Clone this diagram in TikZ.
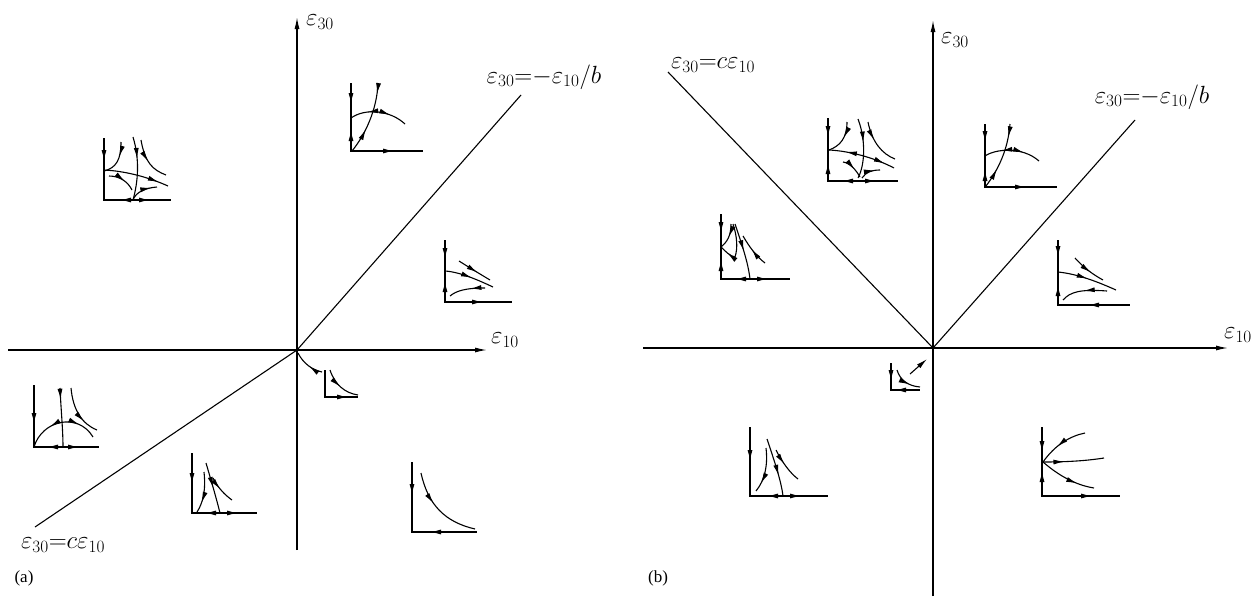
\documentclass[tikz,border=0pt]{standalone}
\usepackage{fontspec}
\setmainfont{Liberation Serif}
\usetikzlibrary{arrows.meta,decorations.markings}
\begin{document}
\begin{tikzpicture}[x=1pt,y=-1pt,
  ax/.style={line width=1.3pt},
  mainarr/.style={-{Latex[length=12pt,width=5pt]}},
  ln/.style={line width=1.1pt},
  mx/.style={line width=2pt},
  cv/.style={line width=1.1pt},
  fa/.style={postaction={decorate,decoration={markings,mark=at position #1 with {\arrow{Latex[length=11pt,width=5pt]}}}}},
  fa/.default=0.5,
  ra/.style={postaction={decorate,decoration={markings,mark=at position #1 with {\arrowreversed{Latex[length=11pt,width=5pt]}}}}},
  ra/.default=0.5,
  tip/.style={-{Latex[length=11pt,width=5pt]},line width=1.1pt},
  lab/.style={font=\fontsize{24}{26}\selectfont, inner sep=0pt},
  captxt/.style={font=\fontsize{17}{19}\selectfont, inner sep=0pt}]
\useasboundingbox (0,0) rectangle (1260,605);
\fill[white] (0,0) rectangle (1260,605);

% ================= panel (a) =================
\coordinate (oa) at (297,350);
\coordinate (xa0) at (8,350);
\coordinate (xa1) at (487,350);
\coordinate (ya0) at (297,550);
\coordinate (ya1) at (297,17);
\coordinate (da1) at (521,95);
\coordinate (da2) at (35,527);
\draw[ax,mainarr] (xa0) -- (xa1);
\draw[ax,mainarr] (ya0) -- (ya1);
\draw[ln] (oa) -- (da1);
\draw[ln] (oa) -- (da2);
\node[lab] (ea30) at (320,22) {$\varepsilon_{30}$};
\node[lab] (ea10) at (505,340) {$\varepsilon_{10}$};
\node[lab] (ealb) at (544,77) {$\varepsilon_{30}{=}{-}\varepsilon_{10}/b$};
\node[lab] (ealc) at (63,545) {$\varepsilon_{30}{=}c\varepsilon_{10}$};
\node[captxt] (capa) at (24,578) {(a)};

% a1
\draw[mx] (104,138) -- (104,200) -- (171,200);
\draw[cv,fa=0.4] (121,142) .. controls (121,160) and (116,168) .. (104,171);
\draw[cv,fa=0.85] (104,170) .. controls (125,171) and (148,177) .. (168,186);
\draw[cv,fa=0.35] (133,137) .. controls (140,160) and (138,182) .. (133,200);
\draw[cv,fa=0.5] (141,140) .. controls (145,163) and (153,170) .. (166,175);
\draw[cv,fa=0.6] (109,176) .. controls (120,176) and (128,182) .. (132,190);
\draw[cv,fa=0.8] (133,200) .. controls (136,192) and (145,188) .. (157,187);
\draw[tip] (104,146) -- (104,161);
\draw[tip] (133,200) -- (120,200);
\draw[tip] (133,200) -- (150,200);

% a2
\draw[mx] (351,83) -- (351,151) -- (423,151);
\draw[cv,ra=0.3,fa=0.7] (351,118) .. controls (365,108) and (390,110) .. (405,124);
\draw[cv,fa=0.35,ra=0.85] (352,151) .. controls (365,135) and (377,110) .. (378,83);
\draw[tip] (351,88) -- (351,104);
\draw[tip] (351,146) -- (351,130);
\draw[tip] (374,151) -- (394,151);

% a3
\draw[mx] (445,240) -- (445,302) -- (512,302);
\draw[cv,fa=0.6] (459,261) .. controls (470,268) and (480,274) .. (490,280);
\draw[cv,fa=0.55] (445,271) .. controls (460,272) and (478,280) .. (493,287);
\draw[cv,ra=0.6] (450,296) .. controls (456,291) and (465,288) .. (485,288);
\draw[tip] (445,243) -- (445,259);
\draw[tip] (445,297) -- (445,281);
\draw[tip] (464,302) -- (483,302);

% a4
\draw[cv,ra=0.55] (298,353) .. controls (303,363) and (312,370) .. (322,372);
\draw[mx] (325,370) -- (325,397) -- (358,397);
\draw[cv,fa=0.5] (330,370) .. controls (335,385) and (345,393) .. (358,395);
\draw[tip] (329,397) -- (348,397);

% a5
\draw[mx] (34,385) -- (34,447) -- (99,447);
\draw[cv,fa=0.2] (60,388) .. controls (61,410) and (63,430) .. (63,447);
\draw[cv,fa=0.7] (71,388) .. controls (73,410) and (82,424) .. (97,430);
\draw[cv,ra=0.35,fa=0.75] (34,447) .. controls (42,420) and (78,412) .. (93,437);
\draw[tip] (34,408) -- (34,424);
\draw[tip] (62,447) -- (47,447);
\draw[tip] (63,447) -- (79,447);

% a6
\draw[mx] (192,453) -- (192,513) -- (257,513);
\draw[cv,fa=0.75] (204,472) .. controls (206,490) and (203,503) .. (197,512);
\draw[cv,fa=0.5] (206,463) .. controls (211,480) and (216,497) .. (220,513);
\draw[cv,fa=0.45] (213,478) .. controls (218,488) and (225,495) .. (232,500);
\draw[tip] (192,468) -- (192,484);
\draw[tip] (220,513) -- (205,513);
\draw[tip] (222,513) -- (238,513);

% a7
\draw[mx] (412,462) -- (412,532) -- (477,532);
\draw[cv,fa=0.4] (421,473) .. controls (428,505) and (445,522) .. (475,529);
\draw[tip] (412,479) -- (412,495);
\draw[tip] (449,532) -- (430,532);

% ================= panel (b) =================
\coordinate (ob) at (933,348);
\coordinate (xb0) at (643,348);
\coordinate (xb1) at (1228,348);
\coordinate (yb0) at (933,596);
\coordinate (yb1) at (933,20);
\coordinate (db1) at (1135,120);
\coordinate (db2) at (668,72);
\draw[ax,mainarr] (xb0) -- (xb1);
\draw[ax,mainarr] (yb0) -- (yb1);
\draw[ln] (ob) -- (db1);
\draw[ln] (ob) -- (db2);
\node[lab] (eb30) at (955,40) {$\varepsilon_{30}$};
\node[lab] (eb10) at (1238,335) {$\varepsilon_{10}$};
\node[lab] (eblb) at (1152,97) {$\varepsilon_{30}{=}{-}\varepsilon_{10}/b$};
\node[lab] (eblc) at (713,65) {$\varepsilon_{30}{=}c\varepsilon_{10}$};
\node[captxt] (capb) at (658,578) {(b)};

% b1
\draw[mx] (828,118) -- (828,181) -- (898,181);
\draw[cv,fa=0.45] (847,122) .. controls (847,138) and (840,146) .. (829,150);
\draw[cv,ra=0.25,fa=0.85] (829,150) .. controls (850,151) and (875,158) .. (894,168);
\draw[cv,fa=0.4] (858,119) .. controls (866,140) and (865,165) .. (858,178);
\draw[cv,fa=0.4] (868,122) .. controls (872,142) and (882,154) .. (895,159);
\draw[cv,fa=0.6] (843,162) .. controls (850,163) and (856,170) .. (860,177);
\draw[cv,fa=0.75] (862,178) .. controls (866,172) and (872,170) .. (880,170);
\draw[tip] (828,121) -- (828,137);
\draw[tip] (828,179) -- (828,163);
\draw[tip] (858,181) -- (842,181);
\draw[tip] (860,181) -- (876,181);

% b2
\draw[mx] (985,124) -- (985,187) -- (1057,187);
\draw[cv,ra=0.3,fa=0.7] (985,156) .. controls (995,149) and (1022,146) .. (1039,161);
\draw[cv,fa=0.3,ra=0.8] (986,186) .. controls (998,170) and (1008,150) .. (1010,124);
\draw[tip] (985,126) -- (985,142);
\draw[tip] (985,186) -- (985,170);
\draw[tip] (1006,187) -- (1026,187);

% b3
\draw[mx] (721,214) -- (721,279) -- (790,279);
\draw[cv,fa=0.5] (731,224) .. controls (731,236) and (727,242) .. (721,247);
\draw[cv,ra=0.5] (721,247) .. controls (726,252) and (730,256) .. (735,257);
\draw[cv] (733,224) .. controls (737,236) and (738,248) .. (735,257);
\draw[cv,fa=0.5] (735,224) .. controls (742,245) and (748,262) .. (750,279);
\draw[cv,ra=0.45] (743,236) .. controls (750,248) and (757,257) .. (765,263);
\draw[tip] (721,217) -- (721,233);
\draw[tip] (721,276) -- (721,260);
\draw[tip] (750,279) -- (735,279);
\draw[tip] (752,279) -- (768,279);

% b4
\draw[mx] (1058,240) -- (1058,305) -- (1130,305);
\draw[cv,fa=0.6] (1075,258) .. controls (1083,267) and (1092,274) .. (1103,280);
\draw[cv,fa=0.5] (1058,272) .. controls (1078,274) and (1098,282) .. (1116,290);
\draw[cv,ra=0.5] (1063,300) .. controls (1070,292) and (1080,289) .. (1107,291);
\draw[tip] (1058,241) -- (1058,257);
\draw[tip] (1058,301) -- (1058,285);
\draw[tip] (1108,305) -- (1088,305);

% b5
\coordinate (b5s) at (910,374);
\coordinate (b5e) at (927,359);
\draw[tip] (b5s) -- (b5e);
\draw[mx] (891,363) -- (891,390) -- (920,390);
\draw[cv,fa=0.65] (897,370) .. controls (900,380) and (908,386) .. (920,387);
\draw[tip] (891,365) -- (891,381);
\draw[tip] (912,390) -- (895,390);

% b6
\draw[mx] (750,427) -- (750,496) -- (828,496);
\draw[cv,fa=0.8] (766,448) .. controls (768,465) and (765,480) .. (756,491);
\draw[cv,fa=0.65] (767,439) .. controls (774,460) and (781,480) .. (783,496);
\draw[cv,fa=0.45] (776,450) .. controls (782,462) and (790,473) .. (798,479);
\draw[tip] (750,445) -- (750,461);
\draw[tip] (783,496) -- (767,496);
\draw[tip] (785,496) -- (801,496);

% b7
\draw[mx] (1042,427) -- (1042,496) -- (1120,496);
\draw[cv,ra=0.4] (1043,462) .. controls (1055,445) and (1070,436) .. (1085,433);
\draw[cv,fa=0.35] (1043,462) .. controls (1065,462) and (1085,461) .. (1104,458);
\draw[cv,fa=0.7] (1043,462) .. controls (1058,475) and (1075,485) .. (1094,488);
\draw[tip] (1042,436) -- (1042,452);
\draw[tip] (1042,486) -- (1042,471);
\draw[tip] (1071,496) -- (1092,496);
\end{tikzpicture}
\end{document}
